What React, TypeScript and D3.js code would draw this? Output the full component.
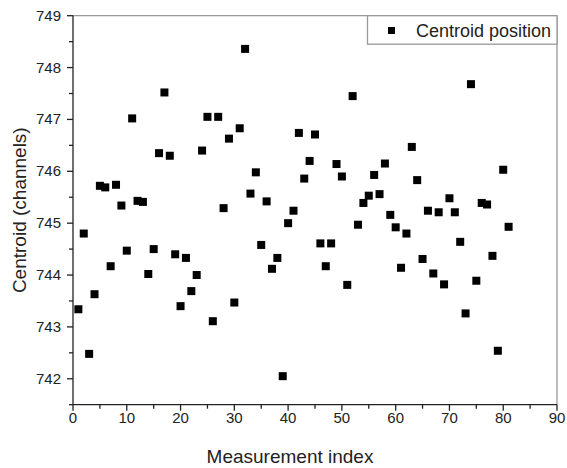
import React from "react";
import * as d3 from "d3";

// centroid per measurement, index 1..81
const indices = d3.range(1, 82);
const centroid = [
  743.34, 744.8, 742.48, 743.63, 745.72, 745.69, 744.17, 745.74, 745.34, 744.47,
  747.02, 745.43, 745.41, 744.02, 744.5, 746.35, 747.52, 746.3, 744.4, 743.4,
  744.33, 743.69, 744.0, 746.4, 747.05, 743.11, 747.05, 745.29, 746.63, 743.47,
  746.83, 748.36, 745.57, 745.98, 744.58, 745.42, 744.12, 744.33, 742.05, 745.0,
  745.24, 746.74, 745.86, 746.2, 746.71, 744.61, 744.17, 744.61, 746.14, 745.9,
  743.81, 747.45, 744.97, 745.39, 745.53, 745.93, 745.56, 746.15, 745.16, 744.92,
  744.14, 744.8, 746.47, 745.83, 744.31, 745.24, 744.03, 745.21, 743.82, 745.48,
  745.21, 744.64, 743.26, 747.68, 743.89, 745.39, 745.36, 744.37, 742.54, 746.03,
  744.93,
];
const xTicks = [0, 10, 20, 30, 40, 50, 60, 70, 80, 90];
const yTicks = [742, 743, 744, 745, 746, 747, 748, 749];

const W = 567;
const H = 468;
const m = { left: 73, right: 557, top: 15.7, bottom: 404.7 };

export default function App() {
  const x = d3.scaleLinear().domain([0, 90]).range([m.left, m.right]);
  const y = d3.scaleLinear().domain([741.5, 749]).range([m.bottom, m.top]);
  const xMinor = d3.range(5, 90, 10);
  const yMinor = d3.range(741.5, 749, 1);
  const font = "Arial, 'Liberation Sans', sans-serif";
  const sq = 8;

  return (
    <svg width={W} height={H} style={{ position: "absolute", left: 0, top: 0, background: "#fff" }} fontFamily={font}>
      {/* frame top/right */}
      <line x1={m.left} x2={m.right} y1={m.top} y2={m.top} stroke="#999" strokeWidth={1.3} />
      <line x1={m.right} x2={m.right} y1={m.top} y2={m.bottom} stroke="#999" strokeWidth={1.3} />

      {/* points */}
      {indices.map((d, i) => (
        <rect key={d} x={x(d) - sq / 2} y={y(centroid[i]) - sq / 2} width={sq} height={sq} fill="#000" />
      ))}

      {/* x axis */}
      <line x1={m.left} x2={m.right} y1={m.bottom} y2={m.bottom} stroke="#222" strokeWidth={1.3} />
      {xTicks.map((t) => (
        <g key={t}>
          <line x1={x(t)} x2={x(t)} y1={m.bottom} y2={m.bottom + 6} stroke="#222" strokeWidth={1.3} />
          <text x={x(t)} y={m.bottom + 18} fontSize={15} textAnchor="middle" fill="#222">{t}</text>
        </g>
      ))}
      {xMinor.map((t) => (
        <line key={t} x1={x(t)} x2={x(t)} y1={m.bottom} y2={m.bottom + 4} stroke="#222" strokeWidth={1.3} />
      ))}

      {/* y axis */}
      <line x1={m.left} x2={m.left} y1={m.top} y2={m.bottom} stroke="#222" strokeWidth={1.3} />
      {yTicks.map((t) => (
        <g key={t}>
          <line x1={m.left - 6} x2={m.left} y1={y(t)} y2={y(t)} stroke="#222" strokeWidth={1.3} />
          <text x={m.left - 12} y={y(t) + 5} fontSize={15} textAnchor="end" fill="#222">{t}</text>
        </g>
      ))}
      {yMinor.map((t) => (
        <line key={t} x1={m.left - 4} x2={m.left} y1={y(t)} y2={y(t)} stroke="#222" strokeWidth={1.3} />
      ))}

      {/* titles */}
      <text x={290} y={463} fontSize={19} textAnchor="middle" fill="#222">Measurement index</text>
      <text transform={`translate(26, ${(m.top + m.bottom) / 2}) rotate(-90)`} fontSize={19} textAnchor="middle" fill="#222">
        Centroid (channels)
      </text>

      {/* legend */}
      <rect x={367.5} y={m.top} width={m.right - 367.5} height={28.5} fill="#fff" stroke="#999" strokeWidth={1.3} />
      <rect x={388} y={27} width={7} height={7} fill="#000" />
      <text x={416} y={36.5} fontSize={18} fill="#222">Centroid position</text>
    </svg>
  );
}
